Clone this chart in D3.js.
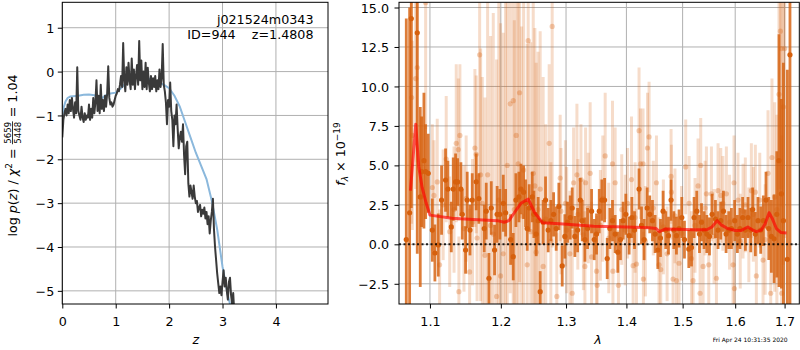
<!DOCTYPE html>
<html>
<head>
<meta charset="utf-8">
<script src="https://cdn.jsdelivr.net/npm/d3@7"></script>
<style>
  body { margin: 0; background: #fff; }
  svg text { font-family: "DejaVu Sans", sans-serif; }
</style>
</head>
<body>
<svg id="fig" width="800" height="350"></svg>
<script>
// ---- left panel: log p(z) ----
const pzZ = [0.00,0.02,0.04,0.06,0.08,0.10,0.12,0.14,0.16,0.18,0.20,0.22,0.24,0.26,0.28,0.30,0.32,0.34,0.36,0.38,
  0.40,0.42,0.44,0.46,0.48,0.50,0.52,0.54,0.56,0.58,0.60,0.62,0.64,0.66,0.68,0.70,0.72,0.74,0.76,0.78,
  0.80,0.82,0.84,0.86,0.88,0.90,0.92,0.94,0.96,0.98,1.00,1.02,1.04,1.06,1.08,1.10,1.12,1.14,1.16,1.18,
  1.20,1.22,1.24,1.26,1.28,1.30,1.32,1.34,1.36,1.38,1.40,1.42,1.44,1.46,1.48,1.50,1.52,1.54,1.56,1.58,
  1.60,1.62,1.64,1.66,1.68,1.70,1.72,1.74,1.76,1.78,1.80,1.82,1.84,1.86,1.88,1.90,1.92,1.94,1.96,1.98,
  2.00,2.02,2.04,2.06,2.08,2.10,2.12,2.14,2.16,2.18,2.20,2.22,2.24,2.26,2.28,2.30,2.32,2.34,2.36,2.38,
  2.40,2.42,2.44,2.46,2.48,2.50,2.52,2.54,2.56,2.58,2.60,2.62,2.64,2.66,2.68,2.70,2.72,2.74,2.76,2.78,
  2.80,2.82,2.84,2.86,2.88,2.90,2.92,2.94,2.96,2.98,3.00,3.02,3.04,3.06,3.08,3.10,3.12,3.14,3.16,3.18,
  3.20,3.22];
const pzLog = [-1.5,-1.1,-0.95,-0.85,-1.0,-0.75,-0.95,-0.65,-0.9,-0.6,-0.85,-1.05,-0.7,-0.95,0.1,-0.9,-1.0,-1.1,-0.8,-1.05,
  -1.15,-0.95,-1.1,-1.0,-1.05,-0.75,-1.1,-0.85,-1.05,-0.6,-0.95,-0.7,-0.2,-0.9,-0.55,-0.95,-0.3,-0.85,-0.65,-0.9,
  -0.55,-0.8,-0.5,0.12,-0.6,-0.75,-0.7,-0.8,-0.75,-0.65,-0.55,-0.5,-0.4,-0.45,-0.3,-0.1,-0.35,0.65,-0.2,-0.45,
  0.1,-0.3,0.2,-0.2,-0.4,0.3,-0.3,0.05,-0.4,-0.1,0.15,-0.3,0.7,-0.2,0.25,-0.4,0.0,-0.35,0.2,-0.4,
  0.09,-0.25,-0.45,-0.1,-0.4,-0.15,-0.35,-0.1,-0.45,-0.2,-0.4,0.05,-0.35,-0.15,0.63,-0.3,-0.45,-0.7,-1.2,-0.65,
  -0.8,-0.25,-0.9,-1.1,-1.7,-1.0,-1.2,-0.75,-1.3,-1.75,-1.5,-1.37,-1.6,-1.2,-1.9,-2.34,-1.7,-1.6,-2.55,-2.85,
  -2.6,-2.75,-2.9,-2.6,-2.85,-3.0,-2.95,-3.2,-3.1,-3.04,-3.3,-3.15,-3.24,-3.1,-3.35,-3.2,-3.48,-3.3,-3.69,-3.4,
  -3.2,-2.9,-3.6,-4.0,-4.3,-4.6,-4.83,-5.05,-4.9,-5.1,-4.8,-4.53,-4.9,-4.7,-5.0,-5.2,-4.8,-4.7,-5.1,-5.3,
  -5.05,-5.5];
const priorZ = [0,0.03,0.06,0.1,0.15,0.2,0.3,0.4,0.5,0.6,0.7,0.75,0.8,0.9,1.0,1.1,1.2,1.3,1.4,1.5,1.6,1.7,1.8,1.9,
  2.0,2.1,2.2,2.3,2.4,2.5,2.6,2.7,2.8,2.9,3.0,3.1,3.2];
const priorLog = [-1.0,-0.8,-0.68,-0.6,-0.57,-0.56,-0.55,-0.53,-0.52,-0.54,-0.6,-0.6,-0.55,-0.5,-0.48,-0.38,-0.25,-0.15,-0.1,-0.12,
  -0.15,-0.2,-0.25,-0.3,-0.38,-0.55,-0.8,-1.15,-1.5,-1.85,-2.15,-2.45,-2.95,-3.6,-4.45,-5.1,-5.6];
const zTicks = [0,1,2,3,4];
const pzTicks = [-5,-4,-3,-2,-1,0,1];
const title1 = 'j021524m0343';
const title2 = 'ID=944    z=1.4808';

// ---- right panel: spectrum ----
const darkLam = [1.0685,1.0729,1.0751,1.0830,1.0870,1.0888,1.0919,1.0942,1.0977,1.1032,1.1067,1.1113,1.1158,1.1213,1.1245,1.1292,1.1319,1.1352,1.1380,1.1426,
  1.1445,1.1492,1.1515,1.1554,1.1586,1.1643,1.1681,1.1758,1.1787,1.1826,1.1860,1.1908,1.1946,1.1986,1.2036,1.2071,1.2145,1.2184,1.2224,1.2269,
  1.2300,1.2340,1.2370,1.2395,1.2426,1.2472,1.2497,1.2532,1.2563,1.2594,1.2640,1.2677,1.2718,1.2760,1.2803,1.2844,1.2886,1.2939,1.2981,1.3024,
  1.3067,1.3099,1.3142,1.3186,1.3229,1.3261,1.3305,1.3348,1.3414,1.3458,1.3496,1.3541,1.3584,1.3630,1.3674,1.3719,1.3763,1.3808,1.3853,1.3898,
  1.3944,1.3990,1.4047,1.4094,1.4140,1.4219,1.4262,1.4308,1.4361,1.4407,1.4455,1.4502,1.4550,1.4598,1.4645,1.4693,1.4742,1.4789,1.4839,1.4887,
  1.4934,1.4985,1.5034,1.5114,1.5164,1.5213,1.5263,1.5314,1.5352,1.5401,1.5452,1.5503,1.5553,1.5617,1.5667,1.5719,1.5771,1.5822,1.5874,1.5926,
  1.5990,1.6043,1.6094,1.6147,1.6202,1.6254,1.6308,1.6347,1.6401,1.6454,1.6509,1.6563,1.6617,1.6673,1.6727,1.6782,1.6838,1.6884,1.6933,1.6975,
  1.7058,1.7113];
const darkFlux = [0.3,2.0,14.3,13.4,3.0,4.6,5.3,4.6,4.5,0.9,-0.55,-0.04,2.8,4.07,3.5,1.1,3.5,3.95,3.95,3.5,
  1.9,-0.36,2.8,0.9,2.8,3.96,2.9,1.0,2.1,-2.15,2.3,-0.36,1.9,1.9,2.6,2.0,0.3,-0.78,2.8,3.0,
  3.5,3.3,2.6,1.0,2.3,3.0,1.9,0.65,1.5,-3.0,1.4,2.8,0.9,1.5,1.9,1.0,2.4,-1.37,0.5,1.4,
  1.7,2.3,0.5,0.9,2.8,1.5,0.3,1.0,2.1,0.3,0.65,2.1,2.8,2.8,-0.9,1.0,1.5,0.65,-0.5,0.3,
  1.5,1.9,0.55,1.7,0.9,3.5,1.2,0.3,2.3,1.9,1.5,0.65,-0.36,0.4,2.1,0.9,0.55,2.8,0.9,0.55,
  1.0,1.7,0.3,-0.3,-0.2,1.7,2.1,0.65,1.4,0.9,0.65,0.5,1.9,1.6,0.9,1.5,2.1,0.65,0.9,1.0,
  1.5,0.65,1.0,1.7,0.9,1.7,0.9,2.2,0.65,1.5,0.9,1.5,2.8,1.0,0.5,0.35,1.9,5.3,3.2,1.5,
  -0.95,12.0];
const darkErr = [14,13,12,14,5.7,3.5,4.3,3.0,2.5,2.0,1.8,2.0,2.2,2.0,1.8,1.6,2.0,1.8,1.5,1.7,
  1.6,1.5,1.8,1.6,1.7,1.8,1.6,1.5,1.8,1.6,1.7,1.6,1.8,1.6,1.8,1.5,1.6,1.5,1.7,1.6,
  1.6,1.7,1.5,1.4,1.5,1.6,1.5,1.4,1.5,1.3,1.4,1.5,1.4,1.3,1.4,1.4,1.5,1.3,1.4,1.3,
  1.4,1.3,1.3,1.4,1.4,1.3,1.4,1.3,1.4,1.3,1.3,1.4,1.3,1.4,1.3,1.3,1.3,1.2,1.3,1.3,
  1.2,1.3,1.2,1.3,1.2,1.3,1.2,1.3,1.3,1.2,1.3,1.2,1.2,1.2,1.3,1.2,1.2,1.3,1.2,1.2,
  1.2,1.3,1.2,1.2,1.2,1.3,1.3,1.2,1.2,1.2,1.2,1.2,1.3,1.2,1.2,1.2,1.3,1.2,1.2,1.3,
  1.3,1.2,1.3,1.3,1.3,1.3,1.4,1.4,1.4,1.5,1.5,1.6,1.8,2.0,2.3,2.8,4,8,6,10,
  12,18];

const lightLam = [1.0755,1.0764,1.0809,1.0830,1.0942,1.1032,1.1054,1.1099,1.1131,1.1180,1.1222,1.1270,1.1330,1.1361,1.1390,1.1398,1.1412,1.1469,1.1500,1.1549,
  1.1590,1.1624,1.1643,1.1655,1.1692,1.1706,1.1730,1.1768,1.1807,1.1850,1.1889,1.1938,1.1970,1.1996,1.2036,1.2070,1.2095,1.2139,1.2184,1.2200,
  1.2229,1.2258,1.2279,1.2310,1.2340,1.2395,1.2410,1.2450,1.2487,1.2512,1.2532,1.2560,1.2594,1.2640,1.2680,1.2734,1.2760,1.2781,1.2854,1.2907,
  1.2920,1.2990,1.3010,1.3062,1.3099,1.3121,1.3175,1.3190,1.3240,1.3280,1.3305,1.3316,1.3360,1.3391,1.3414,1.3496,1.3507,1.3560,1.3600,1.3640,
  1.3700,1.3763,1.3770,1.3808,1.3864,1.3920,1.3980,1.4020,1.4088,1.4116,1.4150,1.4174,1.4219,1.4244,1.4289,1.4295,1.4330,1.4367,1.4395,1.4470,
  1.4526,1.4572,1.4603,1.4650,1.4717,1.4789,1.4795,1.4825,1.4860,1.4887,1.4934,1.4980,1.5057,1.5120,1.5164,1.5194,1.5230,1.5287,1.5325,1.5337,
  1.5382,1.5420,1.5445,1.5489,1.5540,1.5590,1.5636,1.5667,1.5719,1.5760,1.5828,1.5890,1.5958,1.5977,1.5985,1.6055,1.6100,1.6155,1.6200,1.6270,
  1.6321,1.6360,1.6401,1.6421,1.6490,1.6556,1.6600,1.6658,1.6713,1.6739,1.6795,1.6840,1.6884,1.6913,1.6933,1.6940,1.6975,1.7002];
const lightFlux = [9.3,6.9,10.5,11.2,15.3,3.6,3.1,3.95,-1.3,2.5,5.4,0.8,2.2,6.4,6.0,-3.0,6.9,1.0,2.9,-1.75,
  1.4,6.1,5.7,0.4,12.0,4.4,2.6,-0.7,4.4,1.2,0.65,-3.3,2.8,-2.0,-0.6,1.5,5.0,8.9,9.1,2.2,
  6.9,5.1,9.6,1.8,4.7,-1.3,12.9,0.8,4.5,3.7,-0.5,2.2,3.5,-1.4,1.6,6.4,0.2,13.8,-3.3,4.2,
  2.1,2.6,0.9,-0.6,-3.1,3.9,4.4,1.9,4.1,0.6,-1.4,3.9,2.3,4.5,-0.8,-1.7,-2.6,1.2,2.9,5.6,
  0.4,5.1,-1.7,3.9,-2.6,2.2,0.9,2.6,4.1,-1.35,1.7,-1.25,7.2,5.1,5.1,-2.2,0.2,6.1,6.8,2.3,
  3.9,-1.3,-1.6,1.1,-0.6,4.3,3.3,-2.2,1.8,-2.3,-1.2,0.7,4.9,2.6,-0.9,-2.3,1.2,3.7,-3.1,5.0,
  -1.4,2.3,3.2,-1.3,3.2,0.5,-2.15,3.4,3.1,2.6,3.2,1.4,-1.3,3.9,-2.8,2.8,0.2,2.1,2.5,0.6,
  3.4,1.9,3.3,-2.0,2.8,-1.0,0.3,4.5,-3.1,5.5,3.0,2.2,9.5,13.5,12.4,-3.1,8.7,12.4];
const lightErr = [8,6,7,6,8,4,3.5,4,3.5,3.5,4,3.5,4,5,4.5,3.5,4.5,4,4,4,
  4,5,5,4,9,8,8,10,12,12,14,15,14,16,14,14,12,12,13,12,
  12,14,12,12,13,14,12,12,12,10,12,10,10,12,6,5,5,14,4,4,
  4,4,4,4,4,3.5,4.5,3.5,3.5,3.5,3.5,3.5,3.5,4.5,3.5,3.5,3.5,3.5,4,4,
  3.5,4,3.5,3.5,3.5,3.5,3.5,3.5,4,3.5,3.5,3.5,4,3.5,3.5,3,3.5,3.5,3.5,3,
  3,3,3,3,3,3,3,3,3,3,3,3,3,3,3,3,3,3,3,3,
  3,3,3,3,3,3,3,3,3,3,3,3,3,3,3,3,3,3,3,3,
  3,3,3,3,3,3.5,3.5,4,4,5,6,6,9,10,10,10,10,12];

const modelLam = [1.074,1.078,1.081,1.085,1.0895,1.095,1.100,1.13,1.16,1.195,1.205,1.212,1.22,1.23,1.241,1.251,1.263,1.29,1.345,1.40,
  1.44,1.452,1.458,1.468,1.49,1.52,1.545,1.555,1.565,1.572,1.585,1.60,1.612,1.625,1.632,1.642,1.652,1.66,1.668,1.675,
  1.683,1.692,1.704];
const modelFlux = [3.4,5.8,7.6,4.9,3.6,2.6,1.85,1.65,1.58,1.5,1.4,1.5,2.0,2.6,2.87,2.0,1.37,1.3,1.15,1.1,
  1.05,1.0,0.8,0.97,0.95,0.92,0.92,1.1,1.5,1.25,1.0,0.88,0.88,1.1,0.95,0.8,0.9,1.3,2.0,1.6,
  1.0,0.75,0.72];
const lamTicks = [1.1,1.2,1.3,1.4,1.5,1.6,1.7];
const fluxTicks = [-2.5,0,2.5,5,7.5,10,12.5,15];
const stamp = 'Fri Apr 24 10:31:35 2020';

// ---- layout ----
const FS = 12.7;
const GRID = '#b0b0b0';
const ORANGE = '#d6600d';
const L = {x0: 62.3, x1: 328, y0: 2.3, y1: 304};
const R = {x0: 399, x1: 799.3, y0: 2.3, y1: 304};

const svg = d3.select('#fig');
svg.append('rect').attr('width', 800).attr('height', 350).attr('fill', '#fff');
const defs = svg.append('defs');
[['clipL', L], ['clipR', R]].forEach(([id, b]) => {
  defs.append('clipPath').attr('id', id).append('rect')
    .attr('x', b.x0).attr('y', b.y0).attr('width', b.x1 - b.x0).attr('height', b.y1 - b.y0);
});

function grid(b, xs, ys, xv, yv) {
  const g = svg.append('g').attr('stroke', GRID).attr('stroke-width', 1);
  g.selectAll('.gx').data(xv).join('line')
    .attr('x1', d => xs(d)).attr('x2', d => xs(d)).attr('y1', b.y0).attr('y2', b.y1);
  g.selectAll('.gy').data(yv).join('line')
    .attr('x1', b.x0).attr('x2', b.x1).attr('y1', d => ys(d)).attr('y2', d => ys(d));
}

function styleAxis(g) {
  g.select('.domain').remove();
  g.selectAll('line').attr('stroke', '#000').attr('stroke-width', 1);
  g.selectAll('text').attr('font-size', FS).attr('font-family', 'DejaVu Sans').attr('fill', '#000');
}

function frame(b) {
  svg.append('rect').attr('x', b.x0).attr('y', b.y0)
    .attr('width', b.x1 - b.x0).attr('height', b.y1 - b.y0)
    .attr('fill', 'none').attr('stroke', '#000').attr('stroke-width', 1);
}

// ===== left panel =====
const zx = d3.scaleLinear().domain([0, 4.975]).range([L.x0, L.x1]);
const zy = d3.scaleLinear().domain([-5.3, 1.58]).range([L.y1, L.y0]);
grid(L, zx, zy, zTicks, pzTicks);

const gl = svg.append('g').attr('clip-path', 'url(#clipL)');
const zline = d3.line().x(d => zx(d[0])).y(d => zy(d[1]));
gl.append('path').datum(d3.zip(priorZ, priorLog)).attr('d', zline)
  .attr('fill', 'none').attr('stroke', '#8bb8dc').attr('stroke-width', 2);
gl.append('path').datum(d3.zip(pzZ, pzLog)).attr('d', zline)
  .attr('fill', 'none').attr('stroke', '#3a3a3a').attr('stroke-width', 2).attr('stroke-linejoin', 'round');

svg.append('g').attr('transform', `translate(0,${L.y1})`)
  .call(d3.axisBottom(zx).tickValues(zTicks).tickFormat(d3.format('d')).tickSize(4.5).tickPadding(8.2))
  .call(styleAxis);
svg.append('g').attr('transform', `translate(${L.x0},0)`)
  .call(d3.axisLeft(zy).tickValues(pzTicks).tickFormat(d3.format('d')).tickSize(4.5).tickPadding(3.5))
  .call(styleAxis)
  .call(g => g.selectAll('text').attr('dy', '0.36em'));
frame(L);

svg.append('text').attr('x', 313.5).attr('y', 24).attr('text-anchor', 'end')
  .attr('font-size', FS).text(title1);
svg.append('text').attr('x', 313.5).attr('y', 38.5).attr('text-anchor', 'end')
  .attr('font-size', FS).style('white-space', 'pre').text(title2);

svg.append('text').attr('x', zx(2.5)).attr('y', 344).attr('text-anchor', 'middle')
  .attr('font-size', FS).attr('font-style', 'italic').text('z');

// y label with stacked fraction
const yl = svg.append('g').attr('transform', 'translate(17,155.5) rotate(-90)');
const yi = yl.append('g');
const t1 = yi.append('text').attr('font-size', FS);
t1.append('tspan').text('log ');
t1.append('tspan').attr('font-style', 'italic').text('p');
t1.append('tspan').text('(');
t1.append('tspan').attr('font-style', 'italic').text('z');
t1.append('tspan').text(') / ');
t1.append('tspan').attr('font-style', 'italic').text('χ');
t1.append('tspan').attr('font-size', 9).attr('dy', -5).text('2');
t1.append('tspan').attr('dy', 5).style('white-space', 'pre').text(' = ');
const w1 = t1.node().getComputedTextLength();
const num = yi.append('text').attr('font-size', 8.6).attr('text-anchor', 'middle').attr('y', -6.5).text('5659');
const den = yi.append('text').attr('font-size', 8.6).attr('text-anchor', 'middle').attr('y', 3.6).text('5448');
const fw = Math.max(num.node().getComputedTextLength(), den.node().getComputedTextLength()) + 1;
num.attr('x', w1 + fw / 2);
den.attr('x', w1 + fw / 2);
yi.append('line').attr('x1', w1).attr('x2', w1 + fw).attr('y1', -4.5).attr('y2', -4.5)
  .attr('stroke', '#000').attr('stroke-width', 0.8);
const t3 = yi.append('text').attr('font-size', FS).attr('x', w1 + fw).style('white-space', 'pre').text(' = 1.04');
const wAll = w1 + fw + t3.node().getComputedTextLength();
yi.attr('transform', `translate(${-wAll / 2},0)`);

// ===== right panel =====
const lx = d3.scaleLog().domain([1.059, 1.731]).range([R.x0, R.x1]);
const fy = d3.scaleLinear().domain([-3.78, 15.33]).range([R.y1, R.y0]);
grid(R, lx, fy, lamTicks, fluxTicks);

const gr = svg.append('g').attr('clip-path', 'url(#clipR)');
function errPoints(lam, flux, err, barOp, dotOp, barW) {
  const pts = d3.range(lam.length).map(i => ({l: lam[i], f: flux[i], e: err[i]}));
  const g = gr.append('g');
  g.selectAll('line').data(pts).join('line')
    .attr('x1', d => lx(d.l)).attr('x2', d => lx(d.l))
    .attr('y1', d => fy(d.f - d.e)).attr('y2', d => fy(d.f + d.e))
    .attr('stroke', ORANGE).attr('stroke-opacity', barOp).attr('stroke-width', barW);
  g.selectAll('circle').data(pts).join('circle')
    .attr('cx', d => lx(d.l)).attr('cy', d => fy(d.f)).attr('r', 2.6)
    .attr('fill', ORANGE).attr('fill-opacity', dotOp);
}
errPoints(lightLam, lightFlux, lightErr, 0.22, 0.3, 3);
errPoints(darkLam, darkFlux, darkErr, 0.82, 1, 2.8);

gr.append('line').attr('x1', R.x0).attr('x2', R.x1).attr('y1', fy(0)).attr('y2', fy(0))
  .attr('stroke', '#000').attr('stroke-width', 2).attr('stroke-dasharray', '2,2.5').attr('stroke-opacity', 0.85);

gr.append('path').datum(d3.zip(modelLam, modelFlux))
  .attr('d', d3.line().x(d => lx(d[0])).y(d => fy(d[1])))
  .attr('fill', 'none').attr('stroke', '#ff0000').attr('stroke-opacity', 0.65)
  .attr('stroke-width', 3).attr('stroke-linejoin', 'round');

svg.append('g').attr('transform', `translate(0,${R.y1})`)
  .call(d3.axisBottom(lx).tickValues(lamTicks).tickFormat(d3.format('.1f')).tickSize(4.5).tickPadding(8.2))
  .call(styleAxis);
svg.append('g').attr('transform', `translate(${R.x0},0)`)
  .call(d3.axisLeft(fy).tickValues(fluxTicks).tickFormat(d3.format('.1f')).tickSize(4.5).tickPadding(5.5))
  .call(styleAxis)
  .call(g => g.selectAll('text').attr('dy', '0.36em'));
frame(R);

svg.append('text').attr('x', 598).attr('y', 344).attr('text-anchor', 'middle')
  .attr('font-size', FS).attr('font-style', 'italic').text('λ');

const rl = svg.append('text').attr('transform', 'translate(345,154) rotate(-90)')
  .attr('text-anchor', 'middle').attr('font-size', FS);
rl.append('tspan').attr('font-style', 'italic').text('f');
rl.append('tspan').attr('font-style', 'italic').attr('font-size', 9).attr('dy', 3).text('λ');
rl.append('tspan').attr('dy', -3).style('white-space', 'pre').text(' × 10');
rl.append('tspan').attr('font-size', 9).attr('dy', -5.5).text('−19');

svg.append('text').attr('x', 787.7).attr('y', 342).attr('text-anchor', 'end')
  .attr('font-size', 6).text(stamp);
</script>
</body>
</html>
